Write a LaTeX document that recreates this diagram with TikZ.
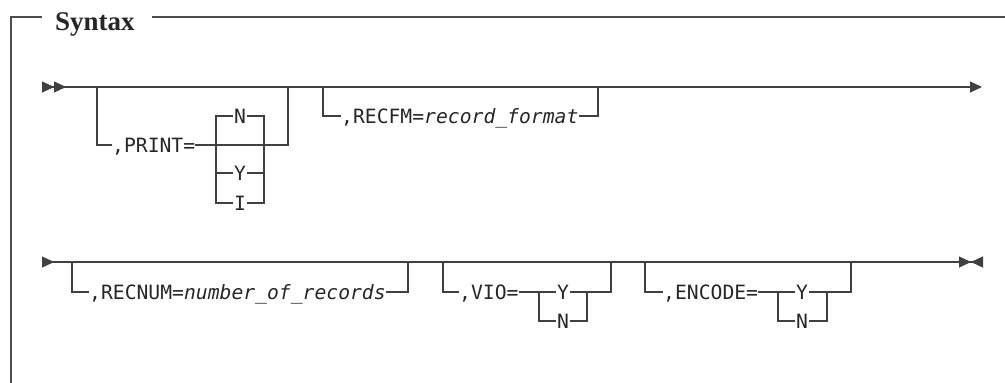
\documentclass[tikz,border=0pt]{standalone}
\usepackage{fontspec}
\setmonofont{DejaVu Sans Mono}
\newfontfamily\titlefont{Liberation Serif}
\usepackage{tikz}
\usetikzlibrary{arrows.meta,positioning}

\begin{document}
\begin{tikzpicture}[
  x=1pt, y=-1pt,
  track/.style={draw=black!75, line width=1.3pt},
  frame/.style={draw=black!70, line width=1.2pt},
  kw/.style={
    font=\fontsize{19.7}{20}\selectfont\ttfamily, text=black!85,
    inner sep=0pt, text height=14.4pt, text depth=0pt, anchor=west
  },
  opt/.style={kw, anchor=center, inner xsep=0.6pt},
  head/.tip={Triangle[length=12pt, width=11pt]},
  headr/.tip={Triangle[reversed, length=12pt, width=11pt]}
]
  \useasboundingbox (0,0) rectangle (1005,383);

  % frame and title
  \node[font=\titlefont\fontsize{27}{28}\selectfont\bfseries, text=black!85,
        inner sep=0pt, anchor=base west] (title) at (55,30.5) {Syntax};
  \draw[frame] (42,17) -- (11,17) -- (11,383);
  \draw[frame] (152,17) -- (1005,17);

  % first row
  \coordinate (s1) at (42,87);
  \coordinate (e1) at (982,87);
  \draw[track, {headr[] headr[]}-{head[]}] (s1) -- (e1);

  \coordinate (pa) at (97,87);
  \coordinate (pb) at (288,87);
  \node[kw] (print) at (112,145) {,PRINT=};
  \node[opt] (pN) at (240,116) {N};
  \node[opt] (pY) at (240,173) {Y};
  \node[opt] (pI) at (240,203) {I};
  \coordinate (pl) at (216,116);
  \coordinate (pr) at (264,116);
  \draw[track] (pa) |- (print.west);
  \draw[track] (print.east) -| (pb);
  \draw[track] (pN.west) -- (pl) -- (pl |- pI) -- (pI.west);
  \draw[track] (pN.east) -- (pr) -- (pr |- pI) -- (pI.east);
  \draw[track] (pl |- pY) -- (pY.west) (pY.east) -- (pr |- pY);

  \coordinate (ra) at (323,87);
  \coordinate (rb) at (598,87);
  \node[kw] (recfm) at (341,116) {,RECFM=\textit{record\_format}};
  \draw[track] (ra) |- (recfm.west);
  \draw[track] (recfm.east) -| (rb);

  % second row
  \coordinate (s2) at (42,262);
  \coordinate (e2) at (983,262);
  \draw[track, {headr[]}-{head[] headr[]}] (s2) -- (e2);

  \coordinate (na) at (72,262);
  \coordinate (nb) at (408,262);
  \node[kw] (recnum) at (89,292) {,RECNUM=\textit{number\_of\_records}};
  \draw[track] (na) |- (recnum.west);
  \draw[track] (recnum.east) -| (nb);

  \coordinate (va) at (443,262);
  \coordinate (vb) at (611,262);
  \node[kw] (vio) at (459,292) {,VIO=};
  \node[opt] (vY) at (563,292) {Y};
  \node[opt] (vN) at (563,321) {N};
  \coordinate (vl) at (539,292);
  \coordinate (vr) at (587,292);
  \draw[track] (va) |- (vio.west);
  \draw[track] (vio.east) -- (vY.west) (vY.east) -| (vb);
  \draw[track] (vl) |- (vN.west) (vN.east) -| (vr);

  \coordinate (ca) at (645,262);
  \coordinate (cb) at (851,262);
  \node[kw] (encode) at (663,292) {,ENCODE=};
  \node[opt] (cY) at (802,292) {Y};
  \node[opt] (cN) at (802,321) {N};
  \coordinate (cl) at (778,292);
  \coordinate (cr) at (827,292);
  \draw[track] (ca) |- (encode.west);
  \draw[track] (encode.east) -- (cY.west) (cY.east) -| (cb);
  \draw[track] (cl) |- (cN.west) (cN.east) -| (cr);
\end{tikzpicture}
\end{document}
